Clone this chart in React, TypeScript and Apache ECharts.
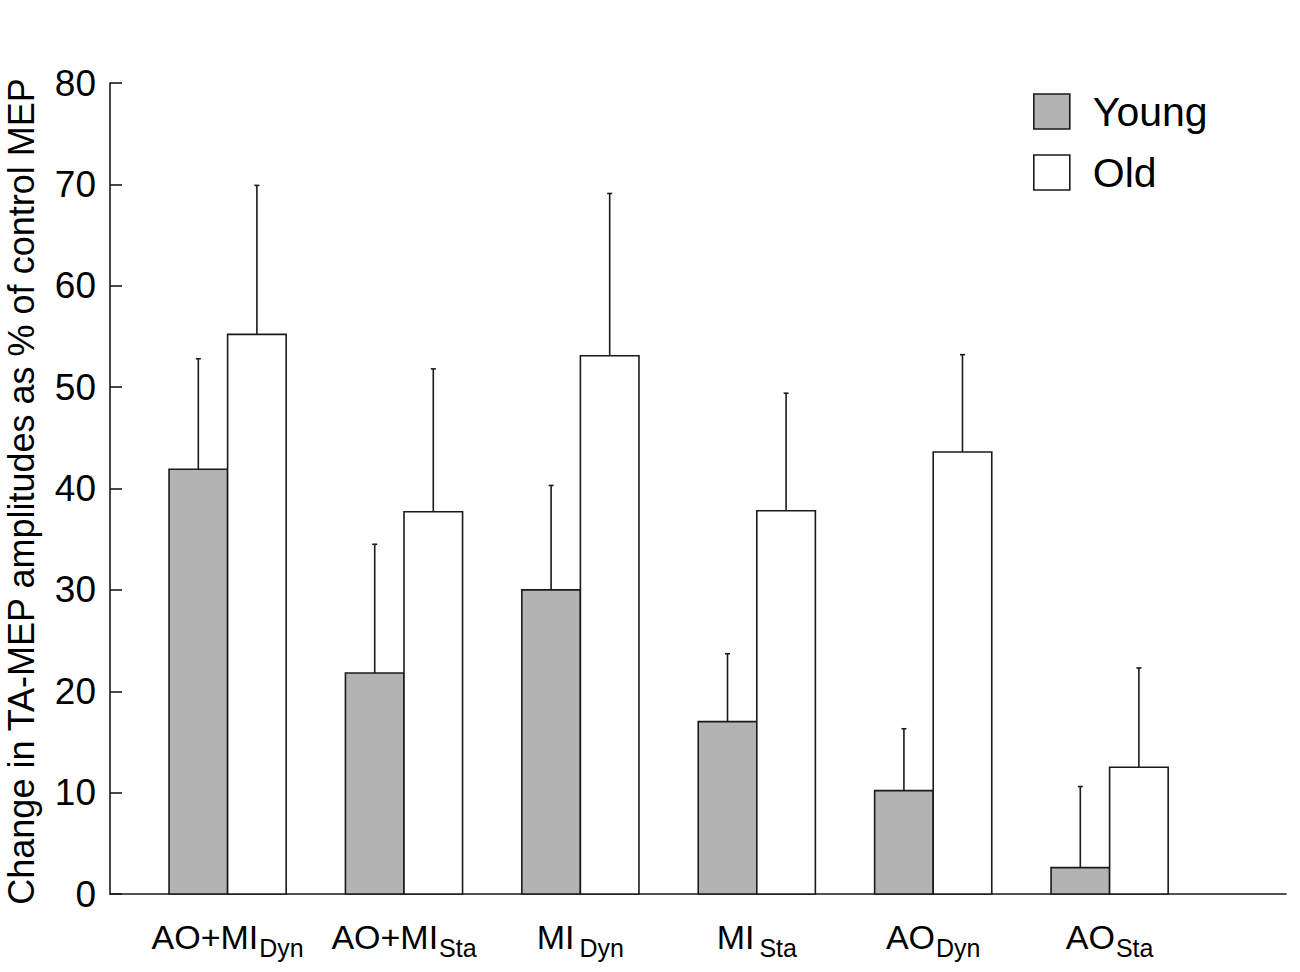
import React, { useEffect, useRef } from "react";
import * as echarts from "echarts";

const mainLabels = ["AO+MI", "AO+MI", "MI", "MI", "AO", "AO"];
const subLabels = ["Dyn", "Sta", "Dyn", "Sta", "Dyn", "Sta"];
const groupPos = [1, 2, 3, 4, 5, 6];
const youngMean = [41.9, 21.8, 30.0, 17.0, 10.2, 2.6];
const youngSD = [10.9, 12.7, 10.3, 6.7, 6.1, 8.0];
const oldMean = [55.2, 37.7, 53.1, 37.8, 43.6, 12.5];
const oldSD = [14.7, 14.1, 16.0, 11.6, 9.6, 9.8];
const yTicks = [0, 10, 20, 30, 40, 50, 60, 70, 80];

const FONT = "Liberation Sans, Arial, Helvetica, sans-serif";
const INK = "#1a1a1a";
const BW = 0.332;

function makeRender(offset: number, fill: string) {
  return (params: any, api: any) => {
    const i = api.value(0);
    const v = api.value(1);
    const sd = api.value(2);
    const p0 = api.coord([i + offset, 0]);
    const p1 = api.coord([i + offset + BW, v]);
    const cx = (p0[0] + p1[0]) / 2;
    const top = api.coord([i, v + sd])[1];
    const ls = { stroke: INK, lineWidth: 1.6 };
    return {
      type: "group",
      children: [
        {
          type: "rect",
          shape: { x: p0[0], y: p1[1], width: p1[0] - p0[0], height: p0[1] - p1[1] },
          style: { fill, stroke: INK, lineWidth: 1.6 },
        },
        { type: "line", shape: { x1: cx, y1: p1[1], x2: cx, y2: top }, style: ls },
        { type: "line", shape: { x1: cx - 2.5, y1: top, x2: cx + 2.5, y2: top }, style: ls },
      ],
    };
  };
}

export default function App() {
  const ref = useRef<HTMLDivElement>(null);
  useEffect(() => {
    if (!ref.current) return;
    const chart = echarts.init(ref.current, undefined, { renderer: "svg" });
    const option: any = {
      animation: false,
      backgroundColor: "#ffffff",
      textStyle: { fontFamily: FONT },
      grid: { left: 110, right: 14, top: 83, bottom: 78, containLabel: false, outerBoundsMode: "none" },
      legend: {
        orient: "vertical",
        left: 1033,
        top: 91,
        padding: 0,
        itemWidth: 36,
        itemHeight: 35,
        itemGap: 20,
        selectedMode: false,
        textStyle: { fontSize: 41, color: "#000", fontFamily: FONT, padding: [0, 0, 0, 18] },
        data: [
          { name: "Young", icon: "rect", itemStyle: { color: "#b3b3b3", borderColor: INK, borderWidth: 1.6 } },
          { name: "Old", icon: "rect", itemStyle: { color: "#ffffff", borderColor: INK, borderWidth: 1.6 } },
        ],
      },
      xAxis: {
        type: "value",
        min: 1 / 3,
        max: 7,
        splitLine: { show: false },
        axisTick: { show: false },
        axisLine: { show: true, lineStyle: { color: INK, width: 1.6 } },
        axisLabel: {
          customValues: groupPos,
          margin: 26,
          formatter: (v: number) => {
            const idx = Math.round(v) - 1;
            const sub = mainLabels[idx] === "MI" ? "s2" : "s";
            return `{m|${mainLabels[idx]}}{${sub}|${subLabels[idx]}}`;
          },
          rich: {
            m: { fontSize: 34, fontFamily: FONT, color: "#000", lineHeight: 40, verticalAlign: "top" },
            s: { fontSize: 25, fontFamily: FONT, color: "#000", lineHeight: 24, verticalAlign: "bottom", padding: [0, 0, 0, 1] },
            s2: { fontSize: 25, fontFamily: FONT, color: "#000", lineHeight: 24, verticalAlign: "bottom", padding: [0, 0, 0, 5] },
          },
        },
      },
      yAxis: {
        type: "value",
        min: 0,
        max: 80,
        interval: 10,
        name: "Change in TA-MEP amplitudes as % of control MEP",
        nameLocation: "middle",
        nameGap: 71,
        nameTextStyle: { fontSize: 36, color: "#000", fontFamily: FONT, padding: [0, 6, 0, 0] },
        splitLine: { show: false },
        axisLine: { show: true, lineStyle: { color: INK, width: 1.6 } },
        axisTick: { show: true, inside: true, length: 12, lineStyle: { color: INK, width: 1.6 } },
        axisLabel: {
          fontSize: 37,
          color: "#000",
          fontFamily: FONT,
          margin: 14,
          customValues: yTicks,
        },
      },
      series: [
        {
          name: "Young",
          type: "custom",
          clip: false,
          itemStyle: { color: "#b3b3b3", borderColor: INK },
          encode: { x: 0, y: 1 },
          data: groupPos.map((p, k) => [p, youngMean[k], youngSD[k]]),
          renderItem: makeRender(-BW, "#b3b3b3"),
        },
        {
          name: "Old",
          type: "custom",
          clip: false,
          itemStyle: { color: "#ffffff", borderColor: INK },
          encode: { x: 0, y: 1 },
          data: groupPos.map((p, k) => [p, oldMean[k], oldSD[k]]),
          renderItem: makeRender(0, "#ffffff"),
        },
      ],
    };
    chart.setOption(option);
    return () => chart.dispose();
  }, []);
  return (
    <div
      ref={ref}
      style={{ position: "absolute", left: 0, top: 0, width: 1300, height: 972, background: "#fff" }}
    />
  );
}
